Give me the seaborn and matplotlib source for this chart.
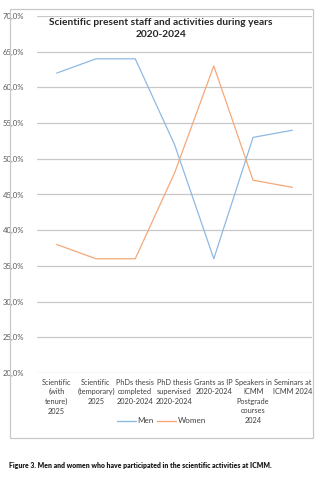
import matplotlib
matplotlib.use("Agg")
import matplotlib.pyplot as plt
import seaborn as sns
import pandas as pd
from matplotlib.patches import Rectangle
from matplotlib.lines import Line2D
from matplotlib.ticker import FuncFormatter, MultipleLocator

categories = [
    "Scientific\n(with\ntenure)\n2025",
    "Scientific\n(temporary)\n2025",
    "PhDs thesis\ncompleted\n2020-2024",
    "PhD thesis\nsupervised\n2020-2024",
    "Grants as IP\n2020-2024",
    "Speakers in\nICMM\nPostgrade\ncourses\n2024",
    "Seminars at\nICMM 2024",
]
men = [62, 64, 64, 52, 36, 53, 54]
women = [38, 36, 36, 48, 63, 47, 46]
series_names = ["Men", "Women"]
colors = {"Men": "#8fb9e3", "Women": "#f5a878"}

df = pd.DataFrame({
    "category": categories * 2,
    "value": men + women,
    "series": ["Men"] * len(men) + ["Women"] * len(women),
})

sns.set_theme(style="white")
plt.rcParams["font.family"] = ["Lato", "DejaVu Sans"]

fig = plt.figure(figsize=(3.23, 4.80), dpi=100)
fig.patch.set_facecolor("white")

# outer chart frame
fig.patches.append(Rectangle((0.030, 0.088), 0.940, 0.894, transform=fig.transFigure,
                             fill=False, edgecolor="#c8c8c8", linewidth=0.9, zorder=0))

ax = fig.add_axes([0.1146, 0.2229, 0.8514, 0.7438])
sns.lineplot(data=df, x="category", y="value", hue="series", palette=colors,
             sort=False, linewidth=0.9, legend=False, ax=ax)

ax.set_xlim(-0.5, len(categories) - 0.5)
ax.set_ylim(20, 70)
ax.yaxis.set_major_locator(MultipleLocator(5))
ax.yaxis.set_major_formatter(FuncFormatter(lambda v, p: f"{v:.1f}%".replace(".", ",")))
ax.grid(axis="y", color="#c8c8c8", linewidth=0.9)
ax.grid(axis="x", visible=False)
for s in ax.spines.values():
    s.set_visible(False)
ax.set_xlabel("")
ax.set_ylabel("")
ax.tick_params(axis="y", labelsize=5.6, labelcolor="#595959", length=0, pad=5)
ax.tick_params(axis="x", labelsize=5.3, labelcolor="#404040", length=0, pad=4)
ax.set_xticks(range(len(categories)))
ax.set_xticklabels(categories, linespacing=1.42)
for lbl in ax.get_yticklabels():
    lbl.set_horizontalalignment("left")
    lbl.set_x(-0.100)

fig.text(0.498, 0.941, "Scientific present staff and activities during years\n2020-2024",
         ha="center", va="center", fontsize=7.3, fontweight="bold", color="#262626",
         linespacing=1.45)

handles = [Line2D([0], [0], color=colors[n], linewidth=1.0) for n in series_names]
fig.legend(handles, series_names, loc="center", bbox_to_anchor=(0.5, 0.123), ncol=2,
           frameon=False, fontsize=5.8, handlelength=2.4, handletextpad=0.2,
           columnspacing=0.4, labelcolor="#404040")

fig.text(0.027, 0.031, "Figure 3. Men and women who have participated in the scientific activities at ICMM.",
         ha="left", va="center", fontsize=4.95, fontweight="heavy", color="#1a1a1a")

fig.savefig("out.png", dpi=100, facecolor="white")
